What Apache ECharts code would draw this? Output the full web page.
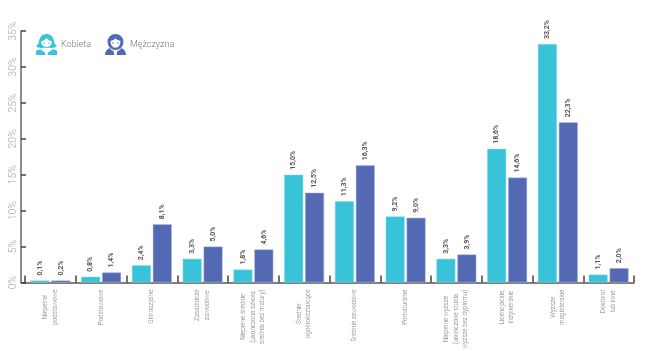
<!DOCTYPE html>
<html><head><meta charset="utf-8">
<style>html,body{margin:0;padding:0;background:#fff}#c{width:650px;height:351px}</style>
<script src="https://cdn.jsdelivr.net/npm/echarts@6/dist/echarts.min.js"></script>
</head><body><div id="c"></div>
<script>
const categories = ["Niepełne\npodstawowe","Podstawowe","Gimnazjalne","Zasadnicze\nzawodowe","Niepełne średnie\n(ukończona szkoła\nśrednia bez matury)","Średnie\nogólnokształcące","Średnie zawodowe","Pomaturalne","Niepełne wyższe\n(ukończone studia\nwyższe bez dyplomu)","Licencjackie,\ninżynierskie","Wyższe\nmagisterskie","Doktorat\nlub inne"];
const kobieta = [0.1,0.8,2.4,3.3,1.8,15.0,11.3,9.2,3.3,18.6,33.2,1.1];
const mezczyzna = [0.2,1.4,8.1,5.0,4.6,12.5,16.3,9.0,3.9,14.6,22.3,2.0];
const iconWoman = "path://M10.5 0C15 0 17.5 3.5 18 7C18.3 9.5 19.5 11 21 12C19 14 16.5 14.2 15 13.8L6 13.8C4.5 14.2 2 14 0 12C1.5 11 2.7 9.5 3 7C3.5 3.5 6 0 10.5 0ZM10.5 4C9 6 7 7 5.2 7.3C5 10.5 7 13 10.5 13C14 13 16 10.5 15.8 7.3C14 7 12 6 10.5 4ZM8 8.6A.7 .7 0 1 1 8 10A.7 .7 0 1 1 8 8.6ZM13 8.6A.7 .7 0 1 1 13 10A.7 .7 0 1 1 13 8.6ZM0 21L0 17C1 16 3 15.3 5 15.2C6 17 7.5 18 9 18.3L9.5 21ZM11.5 21L12 18.3C13.5 18 15 17 16 15.2C18 15.3 20 16 21 17L21 21Z";
const iconMan = "path://M10.5 0A8 8 0 0 1 10.5 16A8 8 0 0 1 10.5 0ZM10.5 4.2C9.5 5.6 7.5 6.6 5.6 6.8C5.2 10.5 7.5 13.8 10.5 13.8C13.5 13.8 15.8 10.5 15.4 6.8C13.5 6.6 11.5 5.6 10.5 4.2ZM8 8.2A.8 .8 0 1 1 8 9.8A.8 .8 0 1 1 8 8.2ZM13 8.2A.8 .8 0 1 1 13 9.8A.8 .8 0 1 1 13 8.2ZM0 21C0 17.5 2 15 5 14C5.5 15.5 6.5 16.5 8.5 17L9.5 21ZM11.5 21L12.5 17C14.5 16.5 15.5 15.5 16 14C19 15 21 17.5 21 21Z";
const fmtVal = p => p.value.toFixed(1).replace('.', ',') + '%';
const labelCfg = {show:true, position:'top', distance:5, rotate:90, align:'left', verticalAlign:'middle',
  fontFamily:'Roboto', fontSize:7, fontWeight:'bold', color:'#555', formatter:fmtVal};
const chart = echarts.init(document.getElementById('c'), null, {renderer:'canvas'});
chart.setOption({
  animation:false,
  backgroundColor:'#fff',
  grid:{left:25, right:16, top:31, bottom:68.5, outerBoundsMode:'none'},
  legend:{left:36, top:34, itemWidth:21, itemHeight:21, itemGap:14, padding:0,
    itemStyle:{borderWidth:0},
    textStyle:{fontFamily:'Roboto', fontSize:9, color:'#777', fontWeight:300, padding:[0,0,0,-1]},
    data:[{name:'Kobieta',icon:iconWoman},{name:'Mężczyzna',icon:iconMan}]},
  xAxis:{type:'category', data:categories, boundaryGap:true,
    axisLine:{show:true, lineStyle:{color:'#555', width:1.5}},
    axisTick:{show:true, inside:true, length:7, interval:0, alignWithLabel:false, lineStyle:{color:'#444', width:1.5, opacity:1}},
    axisLabel:{interval:0, rotate:90, margin:7, color:'#777', fontFamily:'Roboto', fontSize:6.3, fontWeight:300,
      align:'right', verticalAlign:'middle', lineHeight:9.5,
      formatter:v => v.split('\n').map(s => '{a|' + s + '}').join('\n'),
      rich:{a:{align:'center', fontFamily:'Roboto', fontSize:6.3, color:'#777', lineHeight:9.5}}}},
  yAxis:{type:'value', min:0, max:35, interval:5, offset:4,
    splitLine:{show:false},
    axisLine:{show:true, lineStyle:{color:'#666', width:1.5}},
    axisTick:{show:true, inside:true, length:5, lineStyle:{color:'#444', width:1.5}},
    axisLabel:{rotate:90, margin:2, color:'#aaa', fontFamily:'Roboto', fontSize:10.5, fontWeight:300, formatter:'{value}%'}},
  series:[
    {name:'Kobieta', type:'bar', data:kobieta, barWidth:19, barGap:'10%', barMinHeight:2, itemStyle:{color:'#38c3d8', borderColor:'#8fdde9', borderWidth:0.5}, label:labelCfg},
    {name:'Mężczyzna', type:'bar', data:mezczyzna, barWidth:19, barMinHeight:2, itemStyle:{color:'#5469b4', borderColor:'#b3bde0', borderWidth:0.5}, label:labelCfg}
  ],
  graphic:[{type:'rect', silent:true, shape:{x:20.5, y:282, width:5, height:1.5}, style:{fill:'#555'}}]
});
</script></body></html>
